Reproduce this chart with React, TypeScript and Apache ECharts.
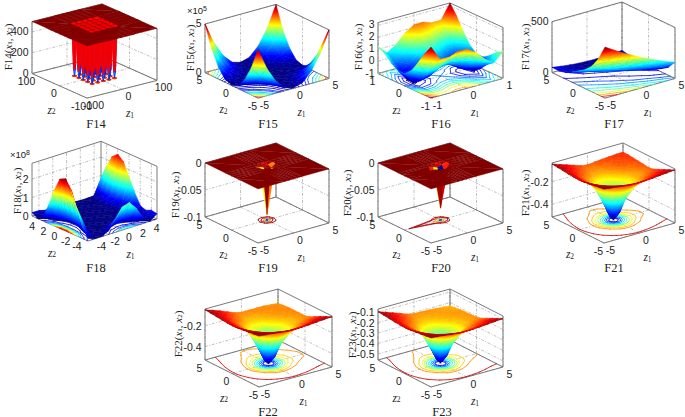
import React, { useEffect, useRef } from "react";
import * as echarts from "echarts";

// ---------- surface data: rows follow z2, columns follow z1 ----------
const F14_AXIS = [-100,-40,-36,-34,-32,-30,-28,-24,-20,-18,-16,-14,-12,-8,-4,-2,0,2,4,8,12,14,16,18,20,24,28,30,32,34,36,40,100];
const F14_A = [500,500,500,500,500,500,500,500,500,500,500,500,500,500,500,500,500,500,500,500,500,500,500,500,500,500,500,500,500,500,500,500,500];
const F14_B = [500,500,445,440,440,440,445,500,445,440,440,440,445,500,445,440,440,440,445,500,445,440,440,440,445,500,445,440,440,440,445,500,500];
const F14_C = [500,500,440,120,60,120,440,500,440,120,60,120,440,500,440,120,60,120,440,500,440,120,60,120,440,500,440,120,60,120,440,500,500];
const F14_D = [500,500,440,60,1,60,440,500,440,60,1,60,440,500,440,60,1,60,440,500,440,60,1,60,440,500,440,60,1,60,440,500,500];
const F14_VALUES = [F14_A,F14_A,F14_B,F14_C,F14_D,F14_C,F14_B,F14_A,F14_B,F14_C,F14_D,F14_C,F14_B,F14_A,F14_B,F14_C,F14_D,F14_C,F14_B,F14_A,F14_B,F14_C,F14_D,F14_C,F14_B,F14_A,F14_B,F14_C,F14_D,F14_C,F14_B,F14_A,F14_A];

const AXIS_9_5 = [-5,-3.75,-2.5,-1.25,0,1.25,2.5,3.75,5];
const AXIS_9_1 = [-1,-0.75,-0.5,-0.25,0,0.25,0.5,0.75,1];
const AXIS_11 = [-5,-4,-3,-2,-1,0,1,2,3,4,5];
const AXIS_HOLE = [-5,-1.2,-0.6,0,0.6,1.2,5];
const AXIS_FUNNEL = [-5,-4,-3,-2,-1,-0.5,0,0.5,1,2,3,4,5];

const F15_VALUES = [
  [5,2.8,1.25,0.31,0.05,0.31,1.25,2.8,5],
  [2.8,1.58,0.7,0.18,0.03,0.18,0.7,1.58,2.8],
  [1.25,0.7,0.31,0.08,0.02,0.08,0.31,0.7,1.25],
  [0.31,0.18,0.08,0.02,0.01,0.02,0.08,0.18,0.31],
  [0.05,0.03,0.02,0.01,0,0.01,0.02,0.03,0.05],
  [0.31,0.18,0.08,0.02,0.01,0.02,0.08,0.18,0.31],
  [1.25,0.7,0.31,0.08,0.02,0.08,0.31,0.7,1.25],
  [2.8,1.58,0.7,0.18,0.03,0.18,0.7,1.58,2.8],
  [5,2.8,1.25,0.31,0.05,0.31,1.25,2.8,5],
];
const F16_VALUES = [
  [3.233,2.0,1.98,2.25,2.233,1.75,0.98,0.5,1.233],
  [2.395,1.22,1.27,1.6,1.645,1.22,0.52,0.1,0.895],
  [1.374,0.265,0.374,0.765,0.874,0.515,-0.126,-0.485,0.374],
  [0.492,-0.555,-0.383,0.07,0.242,-0.055,-0.633,-0.93,-0.008],
  [0,-0.984,-0.75,-0.234,0,-0.234,-0.75,-0.984,0],
  [-0.008,-0.93,-0.633,-0.055,0.242,0.07,-0.383,-0.555,0.492],
  [0.374,-0.485,-0.126,0.515,0.874,0.765,0.374,0.265,1.374],
  [0.895,0.1,0.52,1.22,1.645,1.6,1.27,1.22,2.395],
  [1.233,0.5,0.98,1.75,2.233,2.25,1.98,2.0,3.233],
];
const F17_VALUES = [
  [505,451,400,353,308,267,228,193,161],
  [355,310,267,228,192,159,129,103,79],
  [252,214,179,147,119,93,71,52,36],
  [187,156,127,102,80,61,45,33,23],
  [141,115,92,72,56,42,32,25,21],
  [98,76,58,43,31,22,16,13,14],
  [64,45,31,19,10,5,2.4,3,7],
  [49,33,21,12,5.5,2.5,2.5,5.7,12],
  [52,38,27,19,15,13,14.5,19,27],
];
const F18_VALUES = [
  [0.13,0.005,0.011,0.2,0.72,1.26,1.37,0.94,0.3,0.009,0.29],
  [0.64,0.01,0.003,0.015,0.11,0.24,0.24,0.095,0.003,0.12,0.34],
  [1.5,0.1,0.0002,0.0008,0.01,0.028,0.02,0.001,0.042,0.137,0.207],
  [2.36,0.277,0.009,0.0002,0.0002,0.001,0.0001,0.01,0.041,0.075,0.33],
  [2.83,0.42,0.029,0.0002,0,0,0.001,0.007,0.019,0.103,0.92],
  [2.68,0.41,0.033,0.001,0,0,0.0003,0.002,0.021,0.255,1.6],
  [1.96,0.26,0.015,0.0001,0.0001,0,0,0.001,0.038,0.41,2.3],
  [1.02,0.081,0.0005,0.003,0.001,0,0,0.001,0.038,0.46,2.55],
  [0.27,0.002,0.02,0.012,0.003,0.001,0,0.0003,0.018,0.35,2.3],
  [0.007,0.072,0.058,0.021,0.016,0.014,0.003,0.0005,0.003,0.17,1.65],
  [0.19,0.18,0.08,0.088,0.148,0.137,0.055,0.003,0.003,0.038,0.85],
];
const F19_VALUES = [
  [0,0,0,0,0,0,0],
  [0,0,0,0,0,0,0],
  [0,0,-0.003,-0.006,-0.003,0,0],
  [0,0,-0.006,-0.09,-0.006,0,0],
  [0,0,-0.003,-0.006,-0.003,0,0],
  [0,0,0,0,0,0,0],
  [0,0,0,0,0,0,0],
];
const F19_SHADE = [
  [0,0,0,0,0,0,0],
  [0,0,0,0,0,0,0],
  [0,0,-0.002,-0.022,-0.002,0,0],
  [0,-0.022,-0.034,-0.002,-0.022,0,-0.09],
  [0,0,-0.003,-0.006,-0.003,0,0],
  [0,0,0,0,0,0,0],
  [0,0,0,0,0,0,0],
];
const F20_VALUES = [
  [0,0,0,0,0,0,0],
  [0,0,0,0,0,0,0],
  [0,0,-0.003,-0.006,-0.003,0,0],
  [0,-0.012,-0.03,-0.078,-0.012,0,0],
  [0,0,-0.003,-0.006,-0.003,0,0],
  [0,0,0,0,0,0,0],
  [0,0,0,0,0,0,0],
];
const F21_DEPTH = [
  [0.035,0.041,0.048,0.056,0.061,0.063,0.064,0.063,0.062,0.058,0.052,0.047,0.042],
  [0.041,0.053,0.068,0.083,0.096,0.101,0.102,0.101,0.098,0.09,0.08,0.07,0.063],
  [0.048,0.068,0.091,0.119,0.138,0.146,0.149,0.146,0.14,0.131,0.111,0.096,0.084],
  [0.056,0.083,0.116,0.157,0.205,0.224,0.23,0.224,0.208,0.169,0.141,0.122,0.106],
  [0.061,0.096,0.138,0.205,0.311,0.363,0.385,0.363,0.313,0.208,0.167,0.146,0.126],
  [0.063,0.101,0.146,0.224,0.363,0.441,0.475,0.441,0.363,0.224,0.177,0.157,0.135],
  [0.064,0.102,0.149,0.23,0.385,0.475,0.51,0.475,0.385,0.23,0.179,0.158,0.136],
  [0.063,0.101,0.146,0.224,0.363,0.441,0.475,0.441,0.363,0.224,0.177,0.157,0.135],
  [0.062,0.098,0.14,0.208,0.313,0.363,0.385,0.363,0.313,0.208,0.17,0.15,0.13],
  [0.058,0.09,0.131,0.169,0.208,0.224,0.23,0.224,0.208,0.169,0.15,0.14,0.125],
  [0.052,0.08,0.111,0.141,0.167,0.177,0.179,0.177,0.17,0.15,0.13,0.13,0.12],
  [0.047,0.07,0.096,0.122,0.146,0.157,0.158,0.157,0.15,0.14,0.13,0.12,0.115],
  [0.042,0.063,0.084,0.106,0.126,0.135,0.136,0.135,0.13,0.125,0.12,0.115,0.113],
];
const F22_DEPTH = [
  [0.04,0.046,0.053,0.06,0.066,0.068,0.069,0.068,0.067,0.063,0.057,0.052,0.047],
  [0.046,0.058,0.073,0.088,0.102,0.107,0.108,0.107,0.104,0.096,0.086,0.076,0.07],
  [0.053,0.073,0.097,0.125,0.145,0.153,0.156,0.153,0.147,0.14,0.122,0.106,0.095],
  [0.06,0.088,0.122,0.165,0.214,0.233,0.24,0.233,0.217,0.18,0.155,0.137,0.122],
  [0.066,0.102,0.145,0.214,0.323,0.377,0.4,0.377,0.328,0.225,0.185,0.165,0.15],
  [0.068,0.107,0.153,0.233,0.377,0.458,0.495,0.458,0.38,0.245,0.197,0.178,0.16],
  [0.069,0.108,0.156,0.24,0.4,0.495,0.53,0.495,0.4,0.25,0.2,0.18,0.165],
  [0.068,0.107,0.153,0.233,0.38,0.458,0.495,0.46,0.385,0.245,0.197,0.18,0.165],
  [0.067,0.104,0.147,0.217,0.328,0.38,0.4,0.385,0.33,0.232,0.193,0.178,0.165],
  [0.063,0.096,0.14,0.18,0.225,0.245,0.25,0.245,0.232,0.195,0.178,0.17,0.165],
  [0.057,0.086,0.122,0.155,0.185,0.197,0.2,0.197,0.193,0.178,0.17,0.168,0.165],
  [0.052,0.076,0.106,0.137,0.165,0.178,0.18,0.18,0.178,0.17,0.168,0.168,0.17],
  [0.047,0.07,0.095,0.122,0.15,0.16,0.165,0.165,0.165,0.165,0.165,0.17,0.175],
];
const F23_DEPTH = [
  [0.09,0.096,0.103,0.11,0.116,0.118,0.119,0.118,0.117,0.113,0.107,0.102,0.097],
  [0.096,0.108,0.123,0.138,0.152,0.157,0.158,0.157,0.154,0.146,0.136,0.126,0.12],
  [0.103,0.123,0.147,0.175,0.192,0.198,0.2,0.198,0.194,0.186,0.168,0.152,0.145],
  [0.11,0.138,0.172,0.205,0.25,0.265,0.27,0.265,0.252,0.218,0.195,0.18,0.17],
  [0.116,0.152,0.192,0.25,0.35,0.4,0.42,0.4,0.355,0.262,0.225,0.205,0.195],
  [0.118,0.157,0.198,0.265,0.4,0.48,0.515,0.48,0.405,0.28,0.235,0.218,0.205],
  [0.119,0.158,0.2,0.27,0.42,0.515,0.55,0.515,0.42,0.285,0.24,0.222,0.21],
  [0.118,0.157,0.198,0.265,0.405,0.48,0.515,0.482,0.41,0.282,0.24,0.222,0.212],
  [0.117,0.154,0.194,0.252,0.355,0.405,0.42,0.41,0.358,0.272,0.235,0.222,0.212],
  [0.113,0.146,0.186,0.218,0.262,0.28,0.285,0.282,0.272,0.238,0.225,0.218,0.215],
  [0.107,0.136,0.168,0.195,0.225,0.235,0.24,0.24,0.235,0.225,0.22,0.218,0.218],
  [0.102,0.126,0.152,0.18,0.205,0.218,0.222,0.222,0.222,0.218,0.218,0.222,0.225],
  [0.097,0.12,0.145,0.17,0.195,0.205,0.21,0.212,0.212,0.215,0.218,0.225,0.23],
];
const negate = (m: number[][]) => m.map((r) => r.map((v) => -v));

// ---------- contour levels and tick labels ----------
const F14_LEVELS = [30, 120, 300, 430];
const F15_LEVELS = [0.1, 0.2, 0.4, 0.7, 1, 1.5, 2, 2.5, 3, 4];
const F16_LEVELS = [-0.9, -0.6, -0.3, 0, 0.3, 0.6, 0.9, 1.2, 1.6, 2, 2.5, 3];
const F17_LEVELS = [10, 30, 60, 100, 140, 190, 240, 300, 360, 430];
const F18_LEVELS = [0.05, 0.2, 0.5, 0.8, 1.1, 1.4, 1.7, 2, 2.3, 2.6];
const F19_LEVELS = [-0.002, -0.0045, -0.02, -0.05, -0.075];
const F20_LEVELS = [-0.002, -0.0045, -0.02, -0.04, -0.065];
const F21_LEVELS = [-0.075, -0.16, -0.19, -0.22, -0.26, -0.3, -0.34, -0.38, -0.42, -0.46];
const F22_LEVELS = [-0.08, -0.17, -0.2, -0.23, -0.27, -0.31, -0.35, -0.39, -0.43, -0.47];
const F23_LEVELS = [-0.125, -0.21, -0.24, -0.27, -0.3, -0.33, -0.37, -0.41, -0.45, -0.49];

const TICKS_100 = [-100, 0, 100];
const TICKS_5 = [-5, 0, 5];
const TICKS_1 = [-1, 0, 1];
const TICKS_F18 = [-4, -2, 0, 2, 4];
const Y_F14 = [0, 200, 400];
const Y_F15 = [0, 5];
const Y_F16 = [-1, 0, 1, 2, 3];
const Y_F17 = [0, 500];
const Y_F18 = [0, 1, 2];
const Y_F19 = [-0.1, -0.05, 0];
const Y_F21 = [-0.4, -0.2];
const Y_F23 = [-0.5, -0.4, -0.3, -0.2, -0.1];

// ---------- layout of each panel, in page pixels ----------
const BOX = { ax: 71, ay: -20, bx: -53, by: -26 };
const panels: any[] = [
  { name: "F14", fx: 87, fy: 98, ax: 70, ay: -18, bx: -55, by: -25, h: 53, z1: F14_AXIS, z2: F14_AXIS, vals: F14_VALUES, flat: true, lo: 0, hi: 500, levels: F14_LEVELS, t1: TICKS_100, t2: TICKS_100, ty: Y_F14, lx: 8, ly: 47, tx: 96, ty2: 124 },
  { name: "F15", fx: 258, fy: 98, ...BOX, h: 49.5, z1: AXIS_9_5, z2: AXIS_9_5, vals: F15_VALUES, lo: 0, hi: 5, levels: F15_LEVELS, t1: TICKS_5, t2: TICKS_5, ty: Y_F15, lx: 190, ly: 48, tx: 268, ty2: 124, mult: { e: "5", x: 197, y: 10 } },
  { name: "F16", fx: 431, fy: 98, ax: 72, ay: -20, bx: -53, by: -25, h: 52, z1: AXIS_9_1, z2: AXIS_9_1, vals: F16_VALUES, lo: -1.03, hi: 3.23, levels: F16_LEVELS, t1: TICKS_1, t2: TICKS_1, ty: Y_F16, lx: 358, ly: 47, tx: 441, ty2: 124 },
  { name: "F17", fx: 605, fy: 98, ax: 70, ay: -20, bx: -53, by: -26, h: 52, z1: AXIS_9_5, z2: AXIS_9_5, vals: F17_VALUES, lo: 0, hi: 505, levels: F17_LEVELS, t1: TICKS_5, t2: TICKS_5, ty: Y_F17, lx: 525, ly: 47, tx: 614, ty2: 124 },
  { name: "F18", fx: 88, fy: 241, ax: 69, ay: -22, bx: -56, by: -25, h: 52.7, z1: AXIS_11, z2: AXIS_11, vals: F18_VALUES, lo: 0, hi: 2.85, levels: F18_LEVELS, t1: TICKS_F18, t2: TICKS_F18, ty: Y_F18, lx: 17, ly: 191, tx: 96, ty2: 268, mult: { e: "8", x: 20, y: 154 } },
  { name: "F19", fx: 258, fy: 243, ...BOX, ay: -20, by: -26, h: 54, z1: AXIS_HOLE, z2: AXIS_HOLE, vals: F19_VALUES, shade: F19_SHADE, flat: true, lo: -0.1, hi: 0, levels: F19_LEVELS, t1: TICKS_5, t2: TICKS_5, ty: Y_F19, lx: 175, ly: 195, tx: 268, ty2: 268 },
  { name: "F20", fx: 431, fy: 243, ax: 72, ay: -20, bx: -53, by: -26, h: 54, z1: AXIS_HOLE, z2: AXIS_HOLE, vals: F20_VALUES, flat: true, lo: -0.1, hi: 0, levels: F20_LEVELS, t1: TICKS_5, t2: TICKS_5, ty: Y_F19, lx: 347, ly: 193, tx: 441, ty2: 268 },
  { name: "F21", fx: 604, fy: 243, ax: 71, ay: -20, bx: -52, by: -26, h: 54, z1: AXIS_FUNNEL, z2: AXIS_FUNNEL, vals: negate(F21_DEPTH), lo: -0.513, hi: -0.033, levels: F21_LEVELS, t1: TICKS_5, t2: TICKS_5, ty: Y_F21, lx: 525, ly: 193, tx: 614, ty2: 268 },
  { name: "F22", fx: 259, fy: 387, ax: 73, ay: -20, bx: -54, by: -27, h: 51, z1: AXIS_FUNNEL, z2: AXIS_FUNNEL, vals: negate(F22_DEPTH), lo: -0.529, hi: -0.039, levels: F22_LEVELS, t1: TICKS_5, t2: TICKS_5, ty: Y_F21, lx: 178, ly: 334, tx: 268, ty2: 412 },
  { name: "F23", fx: 431, fy: 387, ax: 72, ay: -20, bx: -53, by: -27, h: 51, z1: AXIS_FUNNEL, z2: AXIS_FUNNEL, vals: negate(F23_DEPTH), lo: -0.558, hi: -0.071, levels: F23_LEVELS, t1: TICKS_5, t2: TICKS_5, ty: Y_F23, lx: 352, ly: 335, tx: 442, ty2: 412 },
];

const TICK_FONT = '10.5px "Liberation Sans"';
const SERIF = '"Liberation Serif"';
const TEXT = "#222222";

const clamp = (v: number) => Math.max(0, Math.min(1, v));
const jet = (t: number) => {
  const x = clamp(t);
  const c = (k: number) => Math.round(255 * clamp(1.5 - Math.abs(4 * x - k)));
  return `rgb(${c(3)},${c(2)},${c(1)})`;
};
const JET_KNOTS = [0.125, 0.375, 0.625, 0.875];

function triangleFill(p: number[][], t: number[]): any {
  const tMin = Math.min(...t);
  const tMax = Math.max(...t);
  const mean = (t[0] + t[1] + t[2]) / 3;
  if (tMax - tMin < 0.002) return jet(mean);
  const d1x = p[1][0] - p[0][0], d1y = p[1][1] - p[0][1];
  const d2x = p[2][0] - p[0][0], d2y = p[2][1] - p[0][1];
  const det = d1x * d2y - d2x * d1y;
  if (Math.abs(det) < 0.01) return jet(mean);
  const dt1 = t[1] - t[0], dt2 = t[2] - t[0];
  const gx = (dt1 * d2y - dt2 * d1y) / det;
  const gy = (d1x * dt2 - d2x * dt1) / det;
  const g2 = gx * gx + gy * gy;
  const s = p[t.indexOf(tMin)];
  const span = tMax - tMin;
  const stops = [{ offset: 0, color: jet(tMin) }];
  JET_KNOTS.forEach((k) => {
    if (k > tMin && k < tMax) stops.push({ offset: (k - tMin) / span, color: jet(k) });
  });
  stops.push({ offset: 1, color: jet(tMax) });
  return {
    type: "linear", global: true,
    x: s[0], y: s[1], x2: s[0] + (gx * span) / g2, y2: s[1] + (gy * span) / g2,
    colorStops: stops,
  };
}

function buildPanel(p: any, index: number) {
  const z1 = p.z1, z2 = p.z2, vals = p.vals;
  const shade = p.shade || vals;
  const all = shade.flat();
  const cMin = Math.min(...all), cMax = Math.max(...all);
  const toT = (v: number) => (v - cMin) / (cMax - cMin);
  const nu = (z: number) => (z - z1[0]) / (z1[z1.length - 1] - z1[0]);
  const nv = (z: number) => (z - z2[0]) / (z2[z2.length - 1] - z2[0]);
  const nh = (y: number) => (y - p.lo) / (p.hi - p.lo);
  const local = (u: number, v: number, h: number) => [u * p.ax + v * p.bx, u * p.ay + v * p.by - h * p.h];

  // frame and grid lines: [u1,v1,h1,u2,v2,h2,kind]
  const frame: number[][] = [];
  const nTicks1 = p.t1.map((x: number) => nu(x));
  const nTicks2 = p.t2.map((x: number) => nv(x));
  const nTicksY = p.ty.map((x: number) => nh(x));
  nTicks1.forEach((u: number) => { frame.push([u,0,0,u,1,0,1]); frame.push([u,1,0,u,1,1,1]); });
  nTicks2.forEach((v: number) => { frame.push([0,v,0,1,v,0,1]); frame.push([1,v,0,1,v,1,1]); });
  nTicksY.forEach((h: number) => { frame.push([0,1,h,1,1,h,1]); frame.push([1,1,h,1,0,h,1]); });
  const boxEdges = [[0,0,0,1,0,0],[0,0,0,0,1,0],[1,0,0,1,1,0],[0,1,0,1,1,0],[0,1,0,0,1,1],[1,0,0,1,0,1],[1,1,0,1,1,1],[0,1,1,1,1,1],[1,0,1,1,1,1]];
  boxEdges.forEach((e) => frame.push([...e, 0]));

  // contours on the floor
  const contour: number[][] = [];
  p.levels.forEach((lv: number) => {
    for (let j = 0; j < z2.length - 1; j++) for (let i = 0; i < z1.length - 1; i++) {
      const c = [[i, j], [i + 1, j], [i + 1, j + 1], [i, j + 1]];
      const pts: number[][] = [];
      for (let k = 0; k < 4; k++) {
        const a = c[k], b = c[(k + 1) % 4];
        const va = vals[a[1]][a[0]], vb = vals[b[1]][b[0]];
        if ((va < lv) !== (vb < lv)) {
          const f = (lv - va) / (vb - va);
          pts.push([z1[a[0]] + f * (z1[b[0]] - z1[a[0]]), z2[a[1]] + f * (z2[b[1]] - z2[a[1]])]);
        }
      }
      for (let k = 0; k + 1 < pts.length; k += 2) contour.push([pts[k][0], pts[k][1], pts[k + 1][0], pts[k + 1][1], lv]);
    }
  });

  // surface triangles, painted from the far corner to the near one
  const tris: number[][] = [];
  for (let j = z2.length - 2; j >= 0; j--) for (let i = z1.length - 2; i >= 0; i--) {
    const A = [z1[i], z2[j], vals[j][i]];
    const B = [z1[i + 1], z2[j], vals[j][i + 1]];
    const C = [z1[i + 1], z2[j + 1], vals[j + 1][i + 1]];
    const D = [z1[i], z2[j + 1], vals[j + 1][i]];
    const cell = shade[j][i];
    tris.push([...B, ...C, ...D, cell]);
    tris.push([...A, ...B, ...D, cell]);
  }

  const axisIdx = { xAxisIndex: index, yAxisIndex: index };
  const base = { type: "custom", coordinateSystem: "cartesian2d", clip: false, silent: true, animation: false, ...axisIdx };

  const frameSeries = {
    ...base, name: p.name + " frame", data: frame,
    renderItem: (_: any, api: any) => {
      const a = api.coord(local(api.value(0), api.value(1), api.value(2)));
      const b = api.coord(local(api.value(3), api.value(4), api.value(5)));
      const grid = api.value(6) === 1;
      return { type: "line", shape: { x1: a[0], y1: a[1], x2: b[0], y2: b[1] },
        style: grid ? { stroke: "#a8a8a8", lineWidth: 0.7, lineDash: [3, 1.5, 1, 1.5], fill: "none" } : { stroke: "#7a7a7a", lineWidth: 1, fill: "none" } };
    },
  };
  const contourSeries = {
    ...base, name: p.name + " contour", data: contour,
    renderItem: (_: any, api: any) => {
      const a = api.coord(local(nu(api.value(0)), nv(api.value(1)), 0));
      const b = api.coord(local(nu(api.value(2)), nv(api.value(3)), 0));
      return { type: "line", shape: { x1: a[0], y1: a[1], x2: b[0], y2: b[1] },
        style: { stroke: jet(toT(api.value(4))), lineWidth: 0.8, fill: "none", lineCap: "round" } };
    },
  };
  const surfaceSeries = {
    ...base, name: p.name, data: tris,
    renderItem: (_: any, api: any) => {
      const pts: number[][] = [], ts: number[] = [];
      for (let k = 0; k < 3; k++) {
        const v = api.value(3 * k + 2);
        pts.push(api.coord(local(nu(api.value(3 * k)), nv(api.value(3 * k + 1)), nh(v))));
        ts.push(toT(v));
      }
      const paint = p.flat ? jet(toT(api.value(9))) : triangleFill(pts, ts);
      return { type: "polygon", shape: { points: pts }, style: { fill: paint, stroke: paint, lineWidth: p.flat ? 0.3 : 0.5 } };
    },
  };

  const grid = { left: p.fx - 60, top: p.fy - 100, width: 135, height: 105, show: false };
  const xAxis = { type: "value", gridIndex: index, min: -60, max: 75, show: false };
  const yAxis = { type: "value", gridIndex: index, min: -100, max: 5, inverse: true, show: false };

  // texts
  const page = (u: number, v: number, h: number) => { const q = local(u, v, h); return [p.fx + q[0], p.fy + q[1]]; };
  const texts: any[] = [];
  const tick = (text: any, x: number, y: number, align = "center") =>
    texts.push({ type: "text", x, y, silent: true, style: { text: String(text), font: TICK_FONT, fill: TEXT, align, verticalAlign: "middle" } });
  p.t1.forEach((z: number) => { const q = page(nu(z), 0, 0); tick(z, q[0] + 6.5, q[1] + 7); });
  p.t2.forEach((z: number) => { const q = page(0, nv(z), 0); tick(z, q[0] - 5.5, q[1] + 7.5); });
  p.ty.forEach((y: number) => { const q = page(0, 1, nh(y)); tick(y, q[0] - 3.5, q[1], "right"); });
  const math = (letter: string, sub: string, x: number, y: number) =>
    texts.push({ type: "text", x, y, silent: true, style: {
      text: `{i|${letter}}{s|${sub}}`, align: "center", verticalAlign: "middle", fill: TEXT,
      rich: { i: { font: `italic 11.5px ${SERIF}`, fill: TEXT }, s: { font: `7.5px ${SERIF}`, fill: TEXT, verticalAlign: "bottom" } },
    } });
  const m1 = page(0.5, 0, 0), m2 = page(0, 0.5, 0);
  math("z", "1", m1[0] + 8, m1[1] + 24);
  math("z", "2", m2[0] - 8, m2[1] + 24);
  texts.push({ type: "text", x: p.tx, y: p.ty2, silent: true, style: { text: p.name, font: `12.5px ${SERIF}`, fill: TEXT, align: "center", verticalAlign: "middle" } });
  texts.push({ type: "text", x: p.lx, y: p.ly, rotation: Math.PI / 2, silent: true, style: {
    text: `{n|${p.name}(}{i|x}{s|1}{n|, }{i|x}{s|2}{n|)}`, align: "center", verticalAlign: "middle", fill: TEXT,
    rich: {
      n: { font: `11px ${SERIF}`, fill: TEXT },
      i: { font: `italic 11px ${SERIF}`, fill: TEXT },
      s: { font: `7px ${SERIF}`, fill: TEXT, verticalAlign: "bottom" },
    },
  } });
  if (p.mult) {
    texts.push({ type: "text", x: p.mult.x, y: p.mult.y, silent: true, style: {
      text: `{n|×10}{u|${p.mult.e}}`, align: "center", verticalAlign: "middle", fill: TEXT,
      rich: { n: { font: '9.5px "Liberation Sans"', fill: TEXT }, u: { font: '7px "Liberation Sans"', fill: TEXT, verticalAlign: "top" } },
    } });
  }
  return { grid, xAxis, yAxis, series: [frameSeries, contourSeries, surfaceSeries], texts };
}

export default function App() {
  const ref = useRef<HTMLDivElement>(null);
  useEffect(() => {
    document.body.style.margin = "0";
    const chart = echarts.init(ref.current!, undefined, { renderer: "svg" });
    const built = panels.map(buildPanel);
    chart.setOption({
      animation: false,
      backgroundColor: "#ffffff",
      tooltip: { show: false },
      grid: built.map((b) => b.grid),
      xAxis: built.map((b) => b.xAxis),
      yAxis: built.map((b) => b.yAxis),
      series: built.flatMap((b) => b.series),
      graphic: { elements: built.flatMap((b) => b.texts) },
    });
    return () => chart.dispose();
  }, []);
  return <div ref={ref} style={{ width: 685, height: 417 }} />;
}
